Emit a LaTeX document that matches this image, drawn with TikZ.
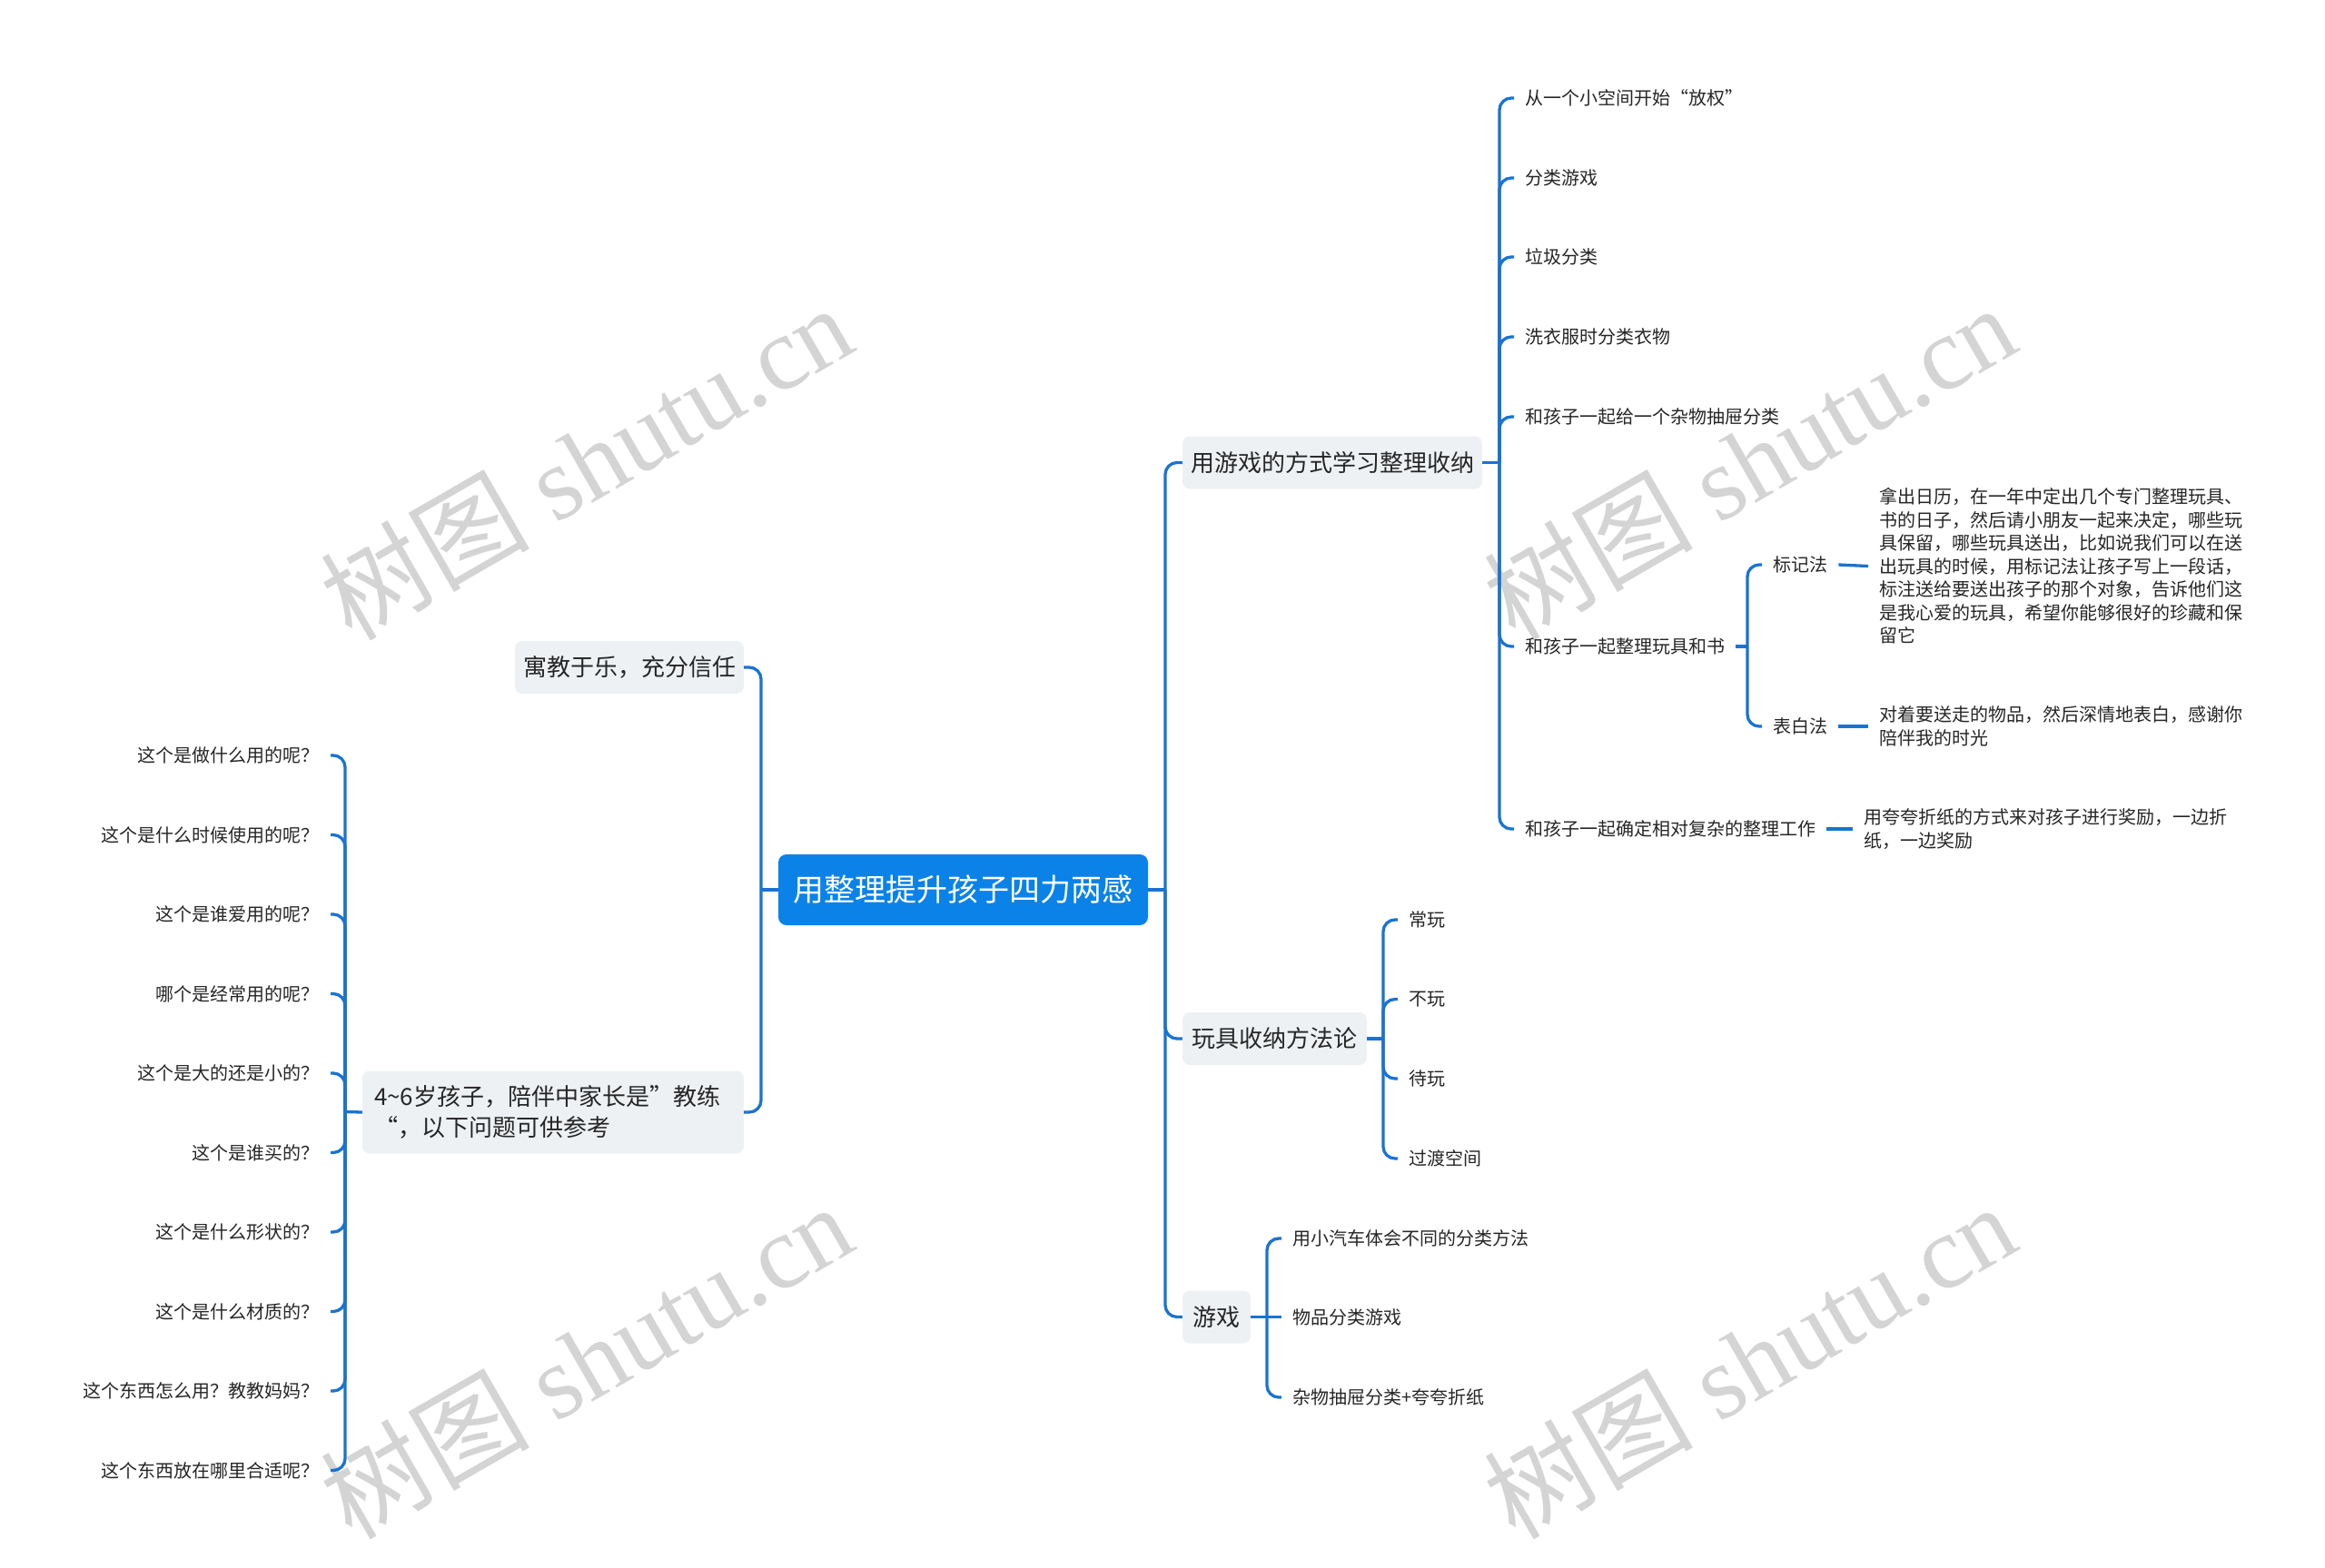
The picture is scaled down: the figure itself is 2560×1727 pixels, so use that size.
\documentclass[tikz,border=0pt]{standalone}
\usepackage{fontspec}
\setmainfont{Noto Sans CJK SC}
\newfontfamily\wmserif{Liberation Serif}
\newfontfamily\wmcjk{Noto Sans CJK SC}
\definecolor{lineblue}{HTML}{1A73D1}
\definecolor{rootblue}{HTML}{0B82E8}
\definecolor{bfill}{HTML}{EEF1F4}
\definecolor{txt}{HTML}{262626}
\definecolor{wm}{RGB}{212,212,212}
\tikzset{
  conn/.style={draw=lineblue, line width=3.3pt, rounded corners=13pt},
  straight/.style={draw=lineblue, line width=3.3pt},
  leaf/.style={text=txt, inner xsep=12pt, inner ysep=4pt, font=\fontsize{20}{25.5}\selectfont},
  branch/.style={fill=bfill, rounded corners=8pt, inner sep=0pt, minimum height=58pt, text=txt, font=\fontsize{26}{34}\selectfont},
  rootbox/.style={fill=rootblue, rounded corners=9pt, inner sep=0pt, text=white, font=\fontsize{34}{40}\selectfont},
  wmark/.style={rotate=30, text=wm, inner sep=0pt, font=\fontsize{115}{115}\selectfont}
}
\begin{document}
\begin{tikzpicture}[x=1pt,y=-1pt]
\fill[white] (0,0) rectangle (2560,1727);
\useasboundingbox (0,0) rectangle (2560,1727);

% watermarks
\node[wmark] (w1) at (645,508) {\wmcjk 树图\wmserif{} shutu.cn};
\node[wmark] (w2) at (1926,508) {\wmcjk 树图\wmserif{} shutu.cn};
\node[wmark] (w3) at (645,1498) {\wmcjk 树图\wmserif{} shutu.cn};
\node[wmark] (w4) at (1926,1498) {\wmcjk 树图\wmserif{} shutu.cn};

% root
\node[rootbox, minimum width=407pt, minimum height=78pt] (root) at (1060.5,980) {用整理提升孩子四力两感};

% right branches
\node[branch, minimum width=330pt] (b1) at (1467,509.5) {用游戏的方式学习整理收纳};
\node[branch, minimum width=203pt] (b2) at (1403.5,1144) {玩具收纳方法论};
\node[branch, minimum width=75pt] (b3) at (1339.5,1450.5) {游戏};

% left branches
\node[branch, minimum width=252pt] (n1) at (693,735) {寓教于乐，充分信任};
\node[branch, minimum width=420pt, minimum height=91pt, text width=394pt, align=left] (n2) at (609,1225) {4\textasciitilde6岁孩子，陪伴中家长是”教练\\“，以下问题可供参考};

% junctions
\coordinate (jR) at (1283,980);
\coordinate (jL) at (838,980);
\coordinate (j1) at (1651,509.5);
\coordinate (j2) at (1523,1144);
\coordinate (j3) at (1395,1450.5);
\coordinate (j4) at (1924,712);
\coordinate (j5) at (380,1224.5);

% leaves of b1
\node[leaf, anchor=west] (l11) at (1667,108) {从一个小空间开始“放权”};
\node[leaf, anchor=west] (l12) at (1667,196) {分类游戏};
\node[leaf, anchor=west] (l13) at (1667,283) {垃圾分类};
\node[leaf, anchor=west] (l14) at (1667,371) {洗衣服时分类衣物};
\node[leaf, anchor=west] (l15) at (1667,459) {和孩子一起给一个杂物抽屉分类};
\node[leaf, anchor=west] (l16) at (1667,712) {和孩子一起整理玩具和书};
\node[leaf, anchor=west] (l17) at (1667,913) {和孩子一起确定相对复杂的整理工作};

\node[leaf, anchor=west] (m1) at (1940,622) {标记法};
\node[leaf, anchor=west] (m2) at (1940,800) {表白法};
\node[leaf, anchor=west, align=left] (t1) at (2057,623.5) {拿出日历，在一年中定出几个专门整理玩具、\\书的日子，然后请小朋友一起来决定，哪些玩\\具保留，哪些玩具送出，比如说我们可以在送\\出玩具的时候，用标记法让孩子写上一段话，\\标注送给要送出孩子的那个对象，告诉他们这\\是我心爱的玩具，希望你能够很好的珍藏和保\\留它};
\node[leaf, anchor=west, align=left] (t2) at (2057,800) {对着要送走的物品，然后深情地表白，感谢你\\陪伴我的时光};
\node[leaf, anchor=west, align=left] (t3) at (2040,913) {用夸夸折纸的方式来对孩子进行奖励，一边折\\纸，一边奖励};

% leaves of b2
\node[leaf, anchor=west] (l21) at (1539,1013) {常玩};
\node[leaf, anchor=west] (l22) at (1539,1100.5) {不玩};
\node[leaf, anchor=west] (l23) at (1539,1188) {待玩};
\node[leaf, anchor=west] (l24) at (1539,1276) {过渡空间};

% leaves of b3
\node[leaf, anchor=west] (l31) at (1411,1364) {用小汽车体会不同的分类方法};
\node[leaf, anchor=west] (l32) at (1411,1450.5) {物品分类游戏};
\node[leaf, anchor=west] (l33) at (1411,1539) {杂物抽屉分类+夸夸折纸};

% leaves of n2
\node[leaf, anchor=east] (q1) at (364,832) {这个是做什么用的呢？};
\node[leaf, anchor=east] (q2) at (364,919.5) {这个是什么时候使用的呢？};
\node[leaf, anchor=east] (q3) at (364,1007) {这个是谁爱用的呢？};
\node[leaf, anchor=east] (q4) at (364,1094.5) {哪个是经常用的呢？};
\node[leaf, anchor=east] (q5) at (364,1182) {这个是大的还是小的？};
\node[leaf, anchor=east] (q6) at (364,1269.5) {这个是谁买的？};
\node[leaf, anchor=east] (q7) at (364,1357) {这个是什么形状的？};
\node[leaf, anchor=east] (q8) at (364,1444.5) {这个是什么材质的？};
\node[leaf, anchor=east] (q9) at (364,1532) {这个东西怎么用？教教妈妈？};
\node[leaf, anchor=east] (q10) at (364,1619.5) {这个东西放在哪里合适呢？};

% connectors: root
\draw[straight] (root.east) -- (jR);
\draw[straight] (root.west) -- (jL);
\draw[conn] (jR) |- (b1.west);
\draw[conn] (jR) |- (b2.west);
\draw[conn] (jR) |- (b3.west);
\draw[conn] (jL) |- (n1.east);
\draw[conn] (jL) |- (n2.east);

% b1
\draw[straight] (b1.east) -- (j1);
\foreach \n in {l11,l12,l13,l14,l15,l16,l17} { \draw[conn] (j1) |- (\n.west); }
\draw[straight] (l16.east) -- (j4);
\draw[conn] (j4) |- (m1.west);
\draw[conn] (j4) |- (m2.west);
\draw[straight] (m1.east) -- (t1.west);
\draw[straight] (m2.east) -- (t2.west);
\draw[straight] (l17.east) -- (t3.west);

% b2
\draw[straight] (b2.east) -- (j2);
\foreach \n in {l21,l22,l23,l24} { \draw[conn] (j2) |- (\n.west); }

% b3
\draw[straight] (b3.east) -- (j3);
\draw[conn] (j3) |- (l31.west);
\draw[straight] (j3) -- (l32.west);
\draw[conn] (j3) |- (l33.west);

% n2
\draw[straight] (n2.west) -- (j5);
\foreach \n in {q1,q2,q3,q4,q5,q6,q7,q8,q9,q10} { \draw[conn] (j5) |- (\n.east); }
\end{tikzpicture}
\end{document}
